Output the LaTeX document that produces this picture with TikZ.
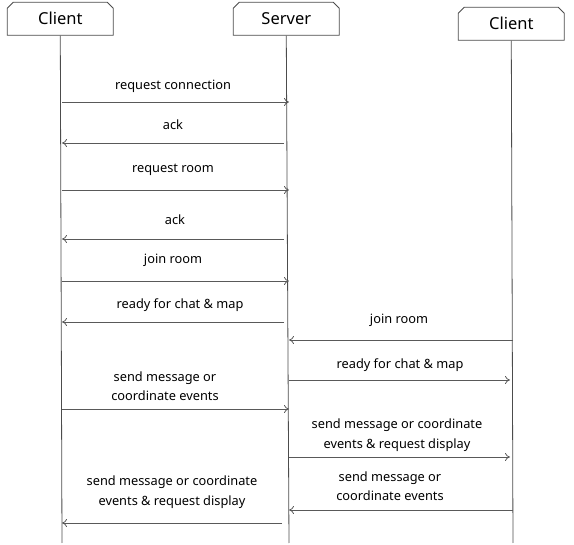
\documentclass[tikz,border=0pt]{standalone}
\usepackage{fontspec}
\setmainfont{Noto Sans}
\usetikzlibrary{shapes.misc,arrows.meta}
\begin{document}
\begin{tikzpicture}[x=1pt,y=-1pt,
  actor/.style={chamfered rectangle, chamfered rectangle corners={north west,north east}, chamfered rectangle xsep=3pt, chamfered rectangle ysep=3pt, draw=black!70, fill=white, line width=0.8pt, minimum width=106pt, minimum height=33pt, inner sep=0pt, font=\fontsize{16.5}{19}\selectfont, anchor=north west},
  life/.style={draw=black!70, line width=0.8pt},
  msg/.style={draw=black!65, line width=0.8pt, -{To[length=5pt,width=8pt]}},
  lbl/.style={font=\fontsize{12.8}{19.5}\selectfont, align=center, inner sep=0pt}]
\useasboundingbox (0,0) rectangle (574,545);
\node[actor] (c1) at (10,5) {Client};
\node[actor] (s) at (236,5) {Server};
\node[actor] (c2) at (461,10) {Client};
\coordinate (c1e) at (62,543);
\coordinate (se) at (289,543);
\coordinate (c2e) at (513,543);
\draw[life] (c1.south) -- (c1e);
\draw[life] (s.south) -- (se);
\draw[life] (c2.south) -- (c2e);
% left side messages
\coordinate (a1) at (62,102); \coordinate (b1) at (289,102);
\draw[msg] (a1) -- (b1);
\node[lbl] (l1) at (173,86) {request connection};
\coordinate (a2) at (284,143); \coordinate (b2) at (62,143);
\draw[msg] (a2) -- (b2);
\node[lbl] (l2) at (173,125) {ack};
\coordinate (a3) at (62,190); \coordinate (b3) at (289,190);
\draw[msg] (a3) -- (b3);
\node[lbl] (l3) at (173,170) {request room};
\coordinate (a4) at (284,239); \coordinate (b4) at (62,239);
\draw[msg] (a4) -- (b4);
\node[lbl] (l4) at (175,220) {ack};
\coordinate (a5) at (62,281); \coordinate (b5) at (289,281);
\draw[msg] (a5) -- (b5);
\node[lbl] (l5) at (173,260) {join room};
\coordinate (a6) at (284,322); \coordinate (b6) at (62,322);
\draw[msg] (a6) -- (b6);
\node[lbl] (l6) at (180,305) {ready for chat \& map};
\coordinate (a9) at (62,409); \coordinate (b9) at (289,409);
\draw[msg] (a9) -- (b9);
\node[lbl] (l9) at (165,386) {send message or\\coordinate events};
\coordinate (a12) at (282,523); \coordinate (b12) at (62,523);
\draw[msg] (a12) -- (b12);
\node[lbl] (l12) at (172,492) {send message or coordinate\\events \& request display};
% right side messages
\coordinate (a7) at (513,340); \coordinate (b7) at (289,340);
\draw[msg] (a7) -- (b7);
\node[lbl] (l7) at (399,320) {join room};
\coordinate (a8) at (289,380); \coordinate (b8) at (510,380);
\draw[msg] (a8) -- (b8);
\node[lbl] (l8) at (400,365) {ready for chat \& map};
\coordinate (a10) at (289,457); \coordinate (b10) at (510,457);
\draw[msg] (a10) -- (b10);
\node[lbl] (l10) at (397,435) {send message or coordinate\\events \& request display};
\coordinate (a11) at (513,510); \coordinate (b11) at (289,510);
\draw[msg] (a11) -- (b11);
\node[lbl] (l11) at (390,486) {send message or\\coordinate events};
\end{tikzpicture}
\end{document}
